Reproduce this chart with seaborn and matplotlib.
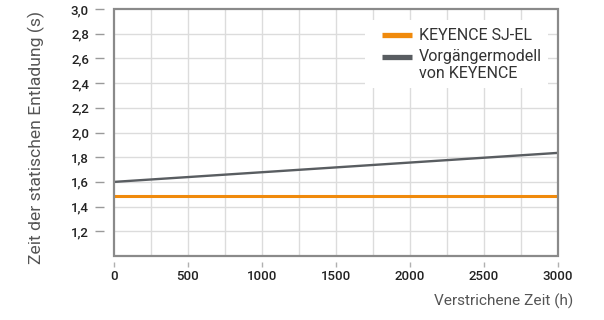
import matplotlib
matplotlib.use("Agg")
import matplotlib.pyplot as plt
import seaborn as sns
import pandas as pd
from matplotlib.lines import Line2D
from matplotlib.patches import Rectangle

hours = [0, 3000]
sj_el = [1.485, 1.485]
previous = [1.60, 1.835]
series_names = ["KEYENCE SJ-EL", "Vorgängermodell"]
legend_labels = ["KEYENCE SJ-EL", "Vorgängermodell", "von KEYENCE"]
y_ticks = [1.2, 1.4, 1.6, 1.8, 2.0, 2.2, 2.4, 2.6, 2.8, 3.0]
y_tick_labels = ["1,2", "1,4", "1,6", "1,8", "2,0", "2,2", "2,4", "2,6", "2,8", "3,0"]
x_ticks = [0, 500, 1000, 1500, 2000, 2500, 3000]
colors = ["#f08a0c", "#595d61"]
line_widths = [2.2, 1.7]

sns.set_theme(style="white")
plt.rcParams["font.family"] = ["Roboto", "DejaVu Sans"]

df = pd.DataFrame({
    "h": hours * 2,
    "t": sj_el + previous,
    "s": [series_names[0]] * 2 + [series_names[1]] * 2,
})

W, H = 604, 320
fig = plt.figure(figsize=(W / 100, H / 100), dpi=100)
ax = fig.add_axes([114 / W, 1 - 256 / H, 444 / W, 247 / H])


def fx(px):
    return px / W


def fy(py):
    return 1 - py / H


# grid
for gx in range(250, 3000, 250):
    ax.axvline(gx, color="#dcdcdc", lw=1.0, zorder=0)
for gy in [1.2, 1.4, 1.6, 1.8, 2.0, 2.2, 2.4, 2.6, 2.8]:
    ax.axhline(gy, color="#dcdcdc", lw=1.0, zorder=0)

n_before = len(ax.lines)
sns.lineplot(data=df, x="h", y="t", hue="s", palette=colors, ax=ax,
             linewidth=2.0, legend=False, zorder=3)
for ln, lw in zip(ax.lines[n_before:], line_widths):
    ln.set_linewidth(lw)

ax.set_xlim(0, 3000)
ax.set_ylim(1.0, 3.0)
ax.set_yticks(y_ticks)
ax.set_yticklabels(y_tick_labels)
ax.set_xticks(x_ticks)
ax.set_xticklabels([str(v) for v in x_ticks])

for side in ["top", "right", "left", "bottom"]:
    ax.spines[side].set_visible(False)
ax.spines["left"].set_position(("outward", 7.2))
ax.spines["bottom"].set_position(("outward", 4.3))
ax.add_patch(Rectangle((0, 0), 1, 1, transform=ax.transAxes, fill=False,
                       edgecolor="#8a8a8a", lw=1.6, zorder=5, clip_on=False))

ax.tick_params(axis="y", which="major", direction="out", length=6.5, width=1.0,
               color="#9a9a9a", pad=4.3, labelsize=9.5, labelcolor="#222222", left=True)
ax.tick_params(axis="x", which="major", direction="out", length=3.6, width=1.0,
               color="#b0b0b0", pad=2.5, labelsize=9.5, labelcolor="#222222", bottom=True)
for lab in ax.get_xticklabels() + ax.get_yticklabels():
    lab.set_fontweight("medium")

ax.set_xlabel("")
ax.set_ylabel("")
fig.text(fx(36), fy(137), "Zeit der statischen Entladung (s)", rotation=90,
         ha="center", va="center", fontsize=12.6, color="#555555")
fig.text(fx(573), fy(301), "Verstrichene Zeit (h)", ha="right", va="center",
         fontsize=11.1, color="#555555")

# legend (drawn as a white box with line handles and texts)
fig.patches.append(Rectangle((fx(365), fy(88)), fx(548) - fx(365), fy(20) - fy(88),
                             transform=fig.transFigure, facecolor="white",
                             edgecolor="none", zorder=6))
handle_rows = [35, 57]
for color, row in zip(colors, handle_rows):
    fig.add_artist(Line2D([fx(382), fx(412)], [fy(row), fy(row)], color=color, lw=3.8,
                          solid_capstyle="butt", transform=fig.transFigure, zorder=7))
for label, row in zip(legend_labels, [35, 57, 74]):
    fig.text(fx(419), fy(row), label, ha="left", va="center", fontsize=11.5,
             color="#333333", zorder=7)

fig.savefig("out.png", dpi=100, facecolor="white")
